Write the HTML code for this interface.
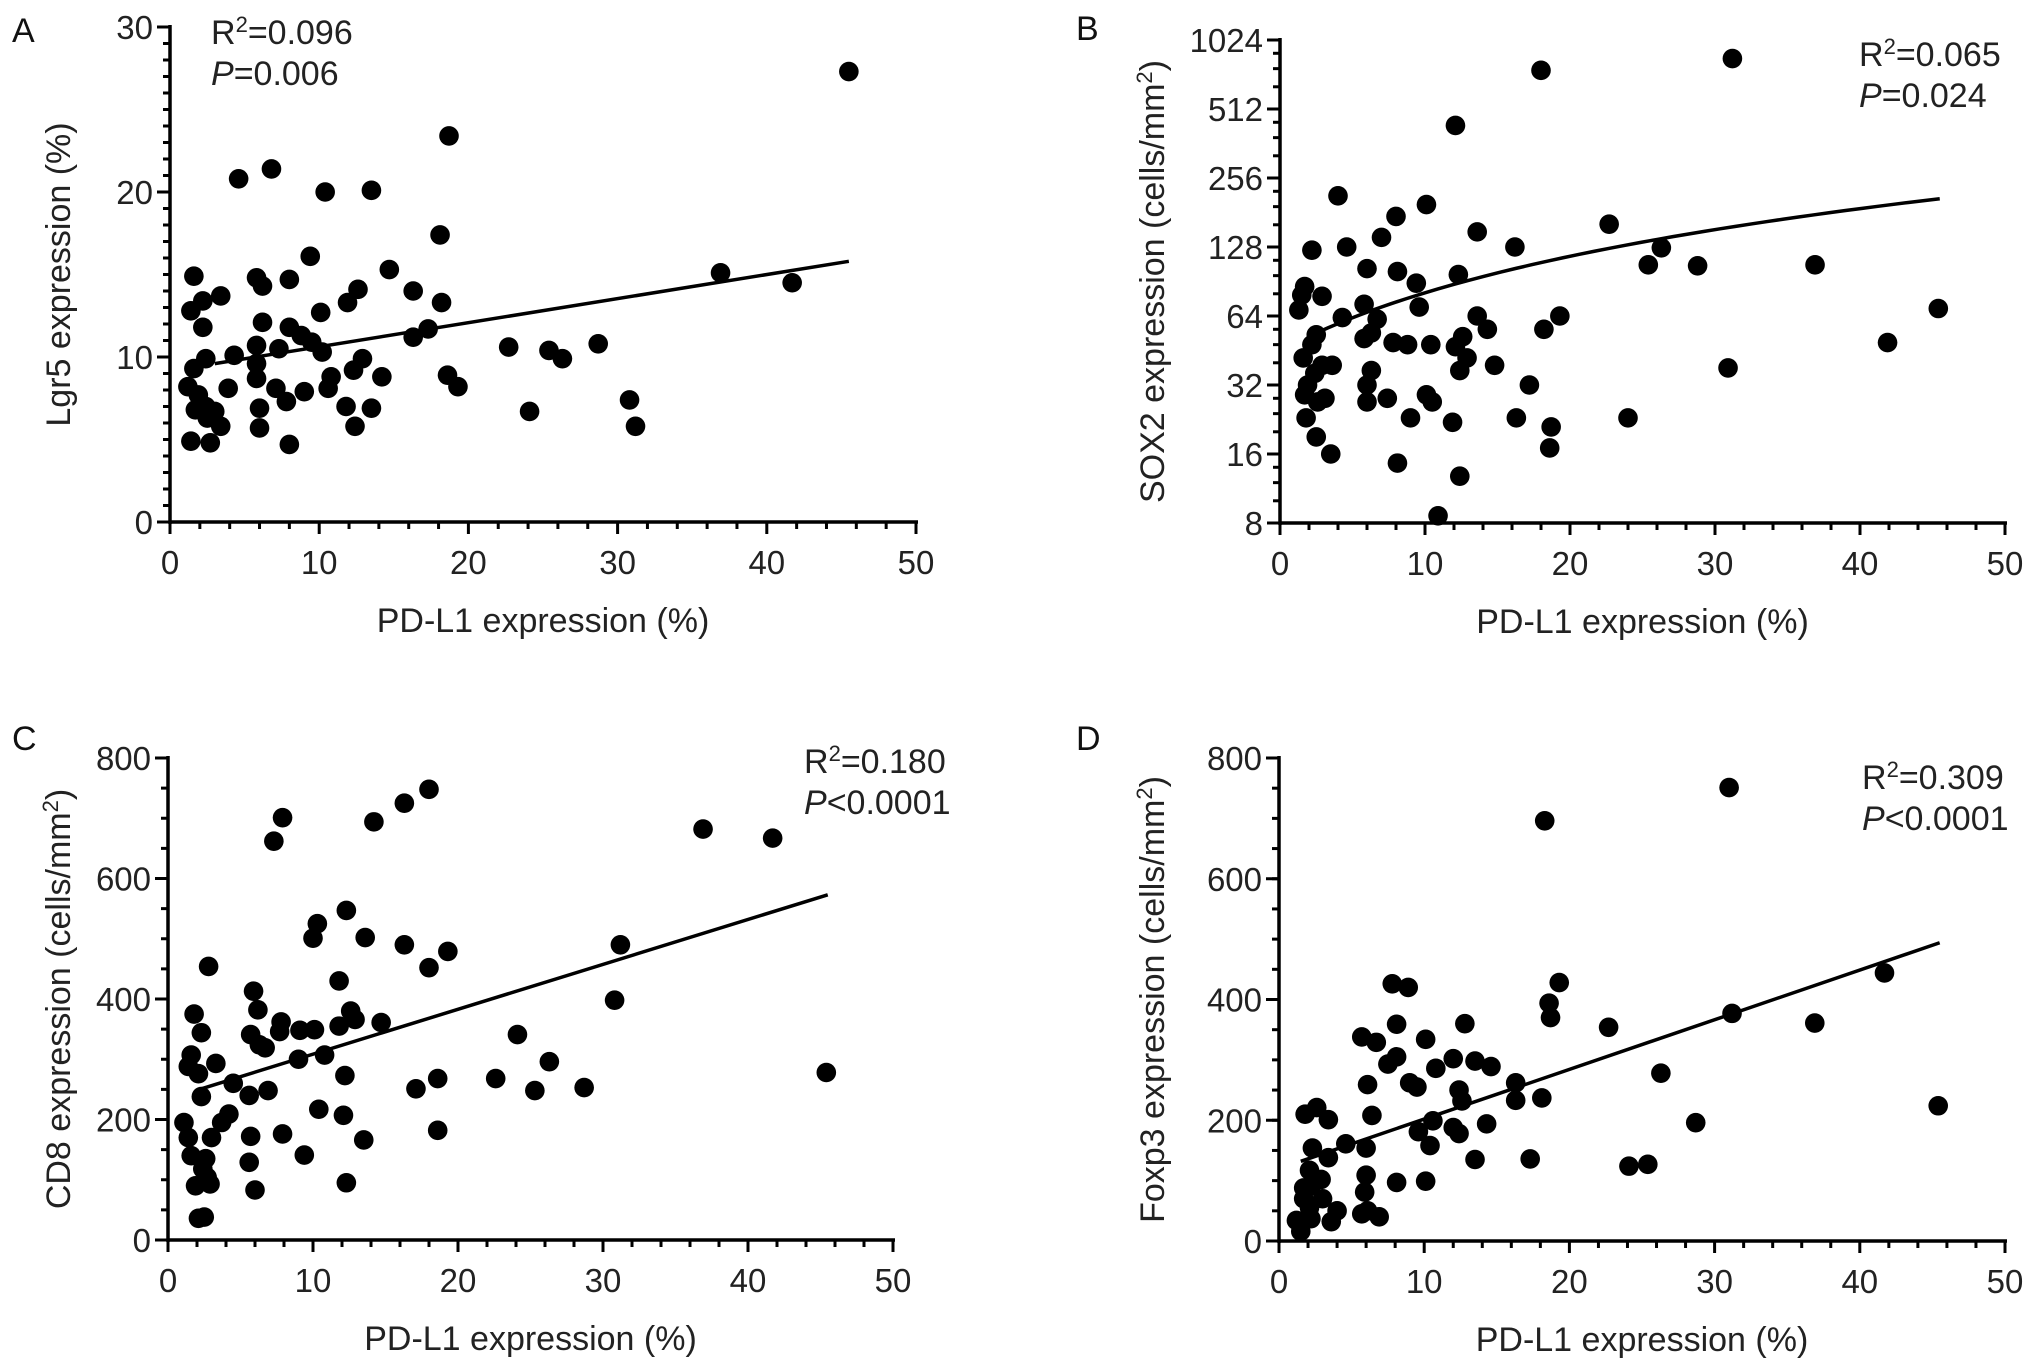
<!DOCTYPE html>
<html><head><meta charset="utf-8"><style>
html,body{margin:0;padding:0;background:#fff;}
svg{display:block;font-family:"Liberation Sans",Arial,sans-serif;}
</style></head><body>
<svg id="fig" width="2031" height="1359" viewBox="0 0 2031 1359"></svg>
<script>
// ---- data (x = PD-L1 %, y = marker) ----
const aX=[45.5,18.7,6.8,4.6,10.4,13.5,18.1,9.4,14.7,1.6,5.8,6.2,8.0,36.9,41.7,3.4,12.6,16.3,2.2,1.4,11.9,18.2,10.1,6.2,2.2,8.0,17.3,16.3,8.8,9.5,7.3,5.8,10.2,4.3,22.7,25.4,26.3,28.7,2.4,1.6,12.9,12.3,5.8,10.8,14.2,18.6,19.3,1.2,3.9,5.8,7.1,9.0,10.6,7.8,1.9,2.4,1.7,3.0,6.0,11.8,13.5,24.1,30.8,31.2,3.4,6.0,12.4,2.5,1.4,2.7,8.0];
const aY=[27.3,23.4,21.4,20.8,20.0,20.1,17.4,16.1,15.3,14.9,14.8,14.3,14.7,15.1,14.5,13.7,14.1,14.0,13.4,12.8,13.3,13.3,12.7,12.1,11.8,11.8,11.7,11.2,11.3,10.9,10.5,10.7,10.3,10.1,10.6,10.4,9.9,10.8,9.9,9.3,9.9,9.2,9.6,8.8,8.8,8.9,8.2,8.2,8.1,8.7,8.1,7.9,8.1,7.3,7.7,7.0,6.8,6.7,6.9,7.0,6.9,6.7,7.4,5.8,5.8,5.7,5.8,6.3,4.9,4.8,4.7];
const aFitX=[3,45.5];
const aFitY=[9.6,15.8];

const bX=[31.2,18.0,12.1,4.0,10.1,8.0,22.7,13.6,7.0,2.2,4.6,16.2,26.3,25.4,28.8,36.9,6.0,8.1,12.3,9.4,1.7,1.5,2.9,1.3,5.8,9.6,45.4,4.3,6.7,13.6,19.3,14.3,18.2,2.5,6.3,5.8,12.6,2.2,7.8,8.8,10.4,12.1,41.9,1.6,2.9,3.6,12.9,14.8,12.4,30.9,2.4,6.3,6.0,17.2,1.9,1.7,3.1,6.0,7.4,10.1,10.5,2.6,1.8,9.0,11.9,16.3,24.0,18.7,2.5,3.5,18.6,8.1,12.4,10.9];
const bY=[850,755,434,214,196,174,161,149,141,124,128,128,127,107,106,107,103,100,97,89,86,79,78,68,72,70,69,63,62,64,64,56,56,53,54,51,52,48,49,48,48,47,49,42,39,39,42,39,37,38,36,37,32,32,32,29,28,27,28,29,27,27,23,23,22,23,23,21,19,16,17,14.6,12.8,8.6];
const bFitIntercept=[45];
const bFitSlope=[3.58];
const bFitRange=[2.2,45.5];

const cX=[18.0,16.3,7.9,14.2,7.3,36.9,41.7,12.3,10.3,10.0,13.6,16.3,31.2,19.3,2.8,18.0,11.8,5.9,30.8,6.2,1.8,12.6,12.9,11.8,14.7,7.8,7.7,5.7,2.3,9.1,10.1,24.1,6.3,6.7,1.6,10.8,9.0,3.3,26.3,1.4,2.1,12.2,45.4,18.6,22.6,4.5,6.9,17.1,25.3,28.7,5.6,2.3,10.4,4.2,12.1,1.1,3.7,3.0,5.7,7.9,13.5,18.6,1.4,1.6,9.4,2.6,5.6,2.4,2.7,2.9,12.3,1.9,6.0,2.1,2.5];
const cY=[748,725,701,694,662,682,667,547,525,501,502,490,490,479,454,452,430,413,398,382,375,380,366,355,361,362,346,341,344,348,349,341,324,319,307,307,300,293,296,288,276,273,278,268,268,260,248,251,248,253,240,238,217,209,207,195,195,170,172,176,166,182,170,140,141,135,129,118,104,93,95,90,83,36,38];
const cFitX=[2.3,45.5];
const cFitY=[251,573];

const dX=[31.0,18.3,7.8,8.9,19.3,41.7,18.6,18.7,31.2,36.9,8.1,12.8,22.7,5.7,6.7,10.1,8.1,7.5,12.0,13.5,14.6,10.8,26.3,9.0,9.5,6.1,16.3,12.4,12.6,16.3,18.1,45.4,1.8,2.6,3.4,6.4,10.6,9.6,12.0,12.4,14.3,28.7,2.3,4.6,6.0,10.4,3.4,13.5,17.3,24.1,25.4,2.1,2.9,2.2,6.0,8.1,10.1,1.7,5.9,1.7,3.0,2.1,4.0,5.7,6.9,6.1,2.2,3.6,1.2,1.5];
const dY=[751,696,426,420,428,444,394,370,377,361,359,360,354,338,329,334,305,293,302,298,289,286,278,262,255,259,262,250,232,233,237,224,210,221,201,208,199,181,188,178,194,196,154,161,154,158,138,135,136,124,127,117,102,91,109,97,99,88,81,70,70,55,50,45,40,50,37,32,34,16];
const dFitX=[1.5,45.5];
const dFitY=[132,494];

const xTicks=[0,10,20,30,40,50];
const aYTicks=[0,10,20,30];
const bYTicks=[8,16,32,64,128,256,512,1024];
const cdYTicks=[0,200,400,600,800];

// ---- drawing ----
const NS="http://www.w3.org/2000/svg";
const svg=document.getElementById('fig');
function mk(tag,attrs,parent){const e=document.createElementNS(NS,tag);for(const k in attrs)e.setAttribute(k,attrs[k]);(parent||svg).appendChild(e);return e;}

function panel(cfg){
  const g=mk('g',{});
  
  
  const sx=v=>cfg.x0+(v-0)/50*(cfg.x1-cfg.x0);
  const sy=cfg.log
    ? v=>cfg.y0-(Math.log2(v)-Math.log2(cfg.ymin))/(Math.log2(cfg.ymax)-Math.log2(cfg.ymin))*(cfg.y0-cfg.y1)
    : v=>cfg.y0-(v-cfg.ymin)/(cfg.ymax-cfg.ymin)*(cfg.y0-cfg.y1);
  const ax=mk('line',{x1:cfg.x0,y1:cfg.y0,x2:cfg.x1+2,y2:cfg.y0,stroke:'#000','stroke-width':3.5},g);
  
  const ay=mk('line',{x1:cfg.x0,y1:cfg.y0+2,x2:cfg.x0,y2:cfg.y1-2,stroke:'#000','stroke-width':3.5},g);
  
  for(let v=0;v<=50;v+=2){const maj=v%10===0;
    mk('line',{x1:sx(v),y1:cfg.y0,x2:sx(v),y2:cfg.y0+(maj?12:7),stroke:'#000','stroke-width':3},g);}
  xTicks.forEach(v=>{const t=mk('text',{x:sx(v),y:cfg.y0+52,'font-size':33,'text-anchor':'middle',fill:'#222'},g);t.textContent=v;
    });
  cfg.minor.forEach(v=>mk('line',{x1:cfg.x0,y1:sy(v),x2:cfg.x0-7,y2:sy(v),stroke:'#000','stroke-width':3},g));
  cfg.yTicks.forEach(v=>{mk('line',{x1:cfg.x0,y1:sy(v),x2:cfg.x0-13,y2:sy(v),stroke:'#000','stroke-width':3},g);
    const t=mk('text',{x:cfg.x0-17,y:sy(v)+12,'font-size':33,'text-anchor':'end',fill:'#222'},g);t.textContent=v;
    });
  const xt=mk('text',{x:(cfg.x0+cfg.x1)/2,y:cfg.y0+110,'font-size':34,'text-anchor':'middle',fill:'#222'},g);
  xt.textContent='PD-L1 expression (%)';
  const yt=mk('text',{transform:`translate(${cfg.ytx},${(cfg.y0+cfg.y1)/2}) rotate(-90)`,'font-size':34,'text-anchor':'middle',fill:'#222'},g);
  
  yt.appendChild(document.createTextNode(cfg.ytitle));
  if(cfg.sup){const s=mk('tspan',{'baseline-shift':'super','font-size':22},yt);s.textContent='2';
    const e=mk('tspan',{},yt);e.textContent=')';}
  const L=mk('text',{x:cfg.lx,y:cfg.ly,'font-size':34,fill:'#111'},g);L.textContent=cfg.id;
  
  const r=mk('text',{x:cfg.sx,y:cfg.sy,'font-size':34,fill:'#222'},g);
  
  r.appendChild(document.createTextNode('R'));
  const rs=mk('tspan',{'baseline-shift':'super','font-size':22},r);rs.textContent='2';
  const rr=mk('tspan',{},r);rr.textContent='='+cfg.r2;
  const p=mk('text',{x:cfg.sx,y:cfg.sy+41,'font-size':34,fill:'#222'},g);
  
  const pi=mk('tspan',{'font-style':'italic'},p);pi.textContent='P';
  const pv=mk('tspan',{},p);pv.textContent=cfg.p;
  let d='';
  if(cfg.fitFn){for(let i=0;i<=40;i++){const xv=cfg.fitR[0]+(cfg.fitR[1]-cfg.fitR[0])*i/40;d+=(i?'L':'M')+sx(xv)+','+sy(cfg.fitFn(xv));}}
  else d='M'+sx(cfg.fx[0])+','+sy(cfg.fy[0])+'L'+sx(cfg.fx[1])+','+sy(cfg.fy[1]);
  const fl=mk('path',{d:d,fill:'none',stroke:'#000','stroke-width':3.5},g);
  
  cfg.X.forEach((xv,i)=>{const c=mk('circle',{cx:sx(xv),cy:sy(cfg.Y[i]),r:9.8,fill:'#000'},g);
    
    });
}
const lin=(a,b,s)=>{const r=[];for(let v=a;v<=b;v+=s)r.push(v);return r;};
const logMinor=[];bYTicks.slice(0,-1).forEach(v=>[1.25,1.5,1.75].forEach(f=>logMinor.push(v*f)));

panel({id:'A',x0:170,x1:916,y0:522,y1:27,ymin:0,ymax:30,log:false,X:aX,Y:aY,fx:aFitX,fy:aFitY,
  yTicks:aYTicks,minor:lin(0,30,1),ytitle:'Lgr5 expression (%)',sup:false,ytx:70,lx:12,ly:42,sx:211,sy:44,r2:'0.096',p:'=0.006'});
panel({id:'B',x0:1280,x1:2005,y0:523,y1:40,ymin:8,ymax:1024,log:true,X:bX,Y:bY,
  fitFn:x=>bFitIntercept[0]+bFitSlope[0]*x,fitR:bFitRange,
  yTicks:bYTicks,minor:logMinor,ytitle:'SOX2  expression (cells/mm',sup:true,ytx:1164,lx:1076,ly:40,sx:1859,sy:66,r2:'0.065',p:'=0.024'});
panel({id:'C',x0:168,x1:893,y0:1240,y1:758,ymin:0,ymax:800,log:false,X:cX,Y:cY,fx:cFitX,fy:cFitY,
  yTicks:cdYTicks,minor:lin(0,800,50),ytitle:'CD8  expression (cells/mm',sup:true,ytx:70,lx:12,ly:750,sx:804,sy:773,r2:'0.180',p:'<0.0001'});
panel({id:'D',x0:1279,x1:2005,y0:1241,y1:758,ymin:0,ymax:800,log:false,X:dX,Y:dY,fx:dFitX,fy:dFitY,
  yTicks:cdYTicks,minor:lin(0,800,50),ytitle:'Foxp3  expression (cells/mm',sup:true,ytx:1164,lx:1076,ly:750,sx:1862,sy:789,r2:'0.309',p:'<0.0001'});
</script>
</body></html>
